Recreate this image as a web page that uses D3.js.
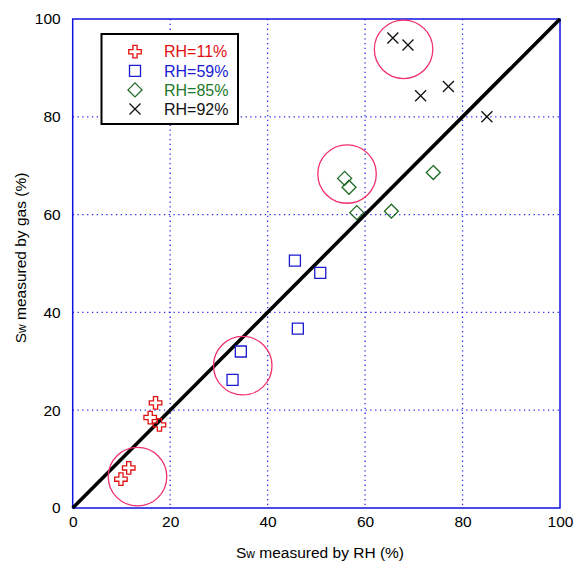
<!DOCTYPE html>
<html><head><meta charset="utf-8">
<script src="https://cdn.jsdelivr.net/npm/d3@7"></script>
<style>body{margin:0;background:#fff}svg{display:block}text{font-family:"Liberation Sans",Arial,sans-serif}</style>
</head><body>
<svg id="c" width="575" height="563"></svg>
<script>
const ticks = [0, 20, 40, 60, 80, 100];
const rh11 = [[17.0, 21.5], [15.9, 18.5], [17.8, 17.0], [11.5, 8.2], [9.9, 5.9]];
const rh59 = [[34.5, 32.0], [32.8, 26.2], [45.6, 50.6], [50.8, 48.1], [46.2, 36.7]];
const rh85 = [[55.8, 67.4], [56.7, 65.6], [58.3, 60.4], [65.4, 60.7], [74.0, 68.6]];
const rh92 = [[65.7, 96.1], [68.8, 94.7], [71.4, 84.3], [77.1, 86.2], [85.0, 80.0]];
const circles = [[13.3, 6.4], [34.9, 29.1], [56.3, 68.3], [67.9, 93.8]];
const circleR = 6;
const legendLabels = ["RH=11%", "RH=59%", "RH=85%", "RH=92%"];
const legendColors = ["#e01010", "#1a1ad0", "#1e7a2a", "#111"];
const markerColors = ["#e01010", "#1a1ad0", "#1e6a22", "#111"];

const svg = d3.select("#c");
const L = 72.7, R = 560, T = 19, B = 508;
const x = d3.scaleLinear().domain([0, 100]).range([L, R]);
const y = d3.scaleLinear().domain([0, 100]).range([B, T]);

// grid
const g = svg.append("g");
g.selectAll("line.gx").data(ticks.slice(1, -1)).enter().append("line")
  .attr("x1", d => x(d)).attr("x2", d => x(d)).attr("y1", T).attr("y2", B)
  .attr("stroke", "#2a2aee").attr("stroke-width", 1.3).attr("stroke-dasharray", "1.3,3.5");
g.selectAll("line.gy").data(ticks.slice(1, -1)).enter().append("line")
  .attr("y1", d => y(d)).attr("y2", d => y(d)).attr("x1", L).attr("x2", R)
  .attr("stroke", "#2a2aee").attr("stroke-width", 1.3).attr("stroke-dasharray", "1.3,3.5");

// axes tick labels
const ax = svg.append("g").attr("transform", `translate(0,${B})`)
  .call(d3.axisBottom(x).tickValues(ticks).tickSize(0).tickPadding(8).tickFormat(d3.format("d")));
const ay = svg.append("g").attr("transform", `translate(${L},0)`)
  .call(d3.axisLeft(y).tickValues(ticks).tickSize(0).tickPadding(12).tickFormat(d3.format("d")));
[ax, ay].forEach(a => {
  a.select(".domain").remove();
  a.selectAll("text").attr("font-size", 15.5).attr("fill", "#000").attr("font-family", '"Liberation Sans",Arial,sans-serif');
});

// frame
svg.append("rect").attr("x", L).attr("y", T).attr("width", R - L).attr("height", B - T)
  .attr("fill", "none").attr("stroke", "#1010e0").attr("stroke-width", 1.5);

// diagonal
svg.append("line").attr("x1", x(0)).attr("y1", y(0)).attr("x2", x(100)).attr("y2", y(100))
  .attr("stroke", "#000").attr("stroke-width", 3.6);

// circles
svg.selectAll("circle.hl").data(circles).enter().append("circle")
  .attr("cx", d => x(d[0])).attr("cy", d => y(d[1]))
  .attr("r", x(circleR) - x(0))
  .attr("fill", "none").attr("stroke", "#f0306a").attr("stroke-width", 1.3);

// marker paths
function plusPath(s) { const a = s / 2, b = s / 6; return `M${-b},${-a}H${b}V${-b}H${a}V${b}H${b}V${a}H${-b}V${b}H${-a}V${-b}H${-b}Z`; }
function markerPath(i) {
  if (i === 0) return plusPath(12.5);
  if (i === 1) return "M-5.5,-5.5H5.5V5.5H-5.5Z";
  if (i === 2) return "M0,-7L7,0L0,7L-7,0Z";
  return "M-5.5,-5.5L5.5,5.5M5.5,-5.5L-5.5,5.5";
}
const series = [rh11, rh59, rh85, rh92];
series.forEach((s, i) => {
  svg.append("g").selectAll("path").data(s).enter().append("path")
    .attr("transform", d => `translate(${x(d[0])},${y(d[1])})`)
    .attr("d", markerPath(i))
    .attr("fill", "none").attr("stroke", markerColors[i]).attr("stroke-width", 1.3);
});

// legend
const lg = svg.append("g");
lg.append("rect").attr("x", 101.5).attr("y", 34).attr("width", 136.5).attr("height", 90)
  .attr("fill", "#fff").attr("stroke", "#000").attr("stroke-width", 2);
legendLabels.forEach((lab, i) => {
  const yy = 51.7 + i * 19.1;
  lg.append("path").attr("transform", `translate(135,${yy})`).attr("d", markerPath(i))
    .attr("fill", "none").attr("stroke", markerColors[i]).attr("stroke-width", 1.3);
  lg.append("text").attr("x", 164).attr("y", yy).attr("dy", "0.36em")
    .attr("font-size", 16).attr("fill", legendColors[i]).text(lab);
});

// axis titles
const xt = svg.append("text").attr("x", 320).attr("y", 558).attr("text-anchor", "middle")
  .attr("font-size", 15.5).attr("fill", "#000");
xt.append("tspan").text("S");
xt.append("tspan").attr("font-size", 12).text("w");
xt.append("tspan").text(" measured by RH (%)");

const yt = svg.append("text").attr("transform", `translate(26,258) rotate(-90)`)
  .attr("text-anchor", "middle").attr("font-size", 15.5).attr("fill", "#000");
yt.append("tspan").text("S");
yt.append("tspan").attr("font-size", 12).text("w");
yt.append("tspan").text(" measured by gas (%)");
</script>
</body></html>
